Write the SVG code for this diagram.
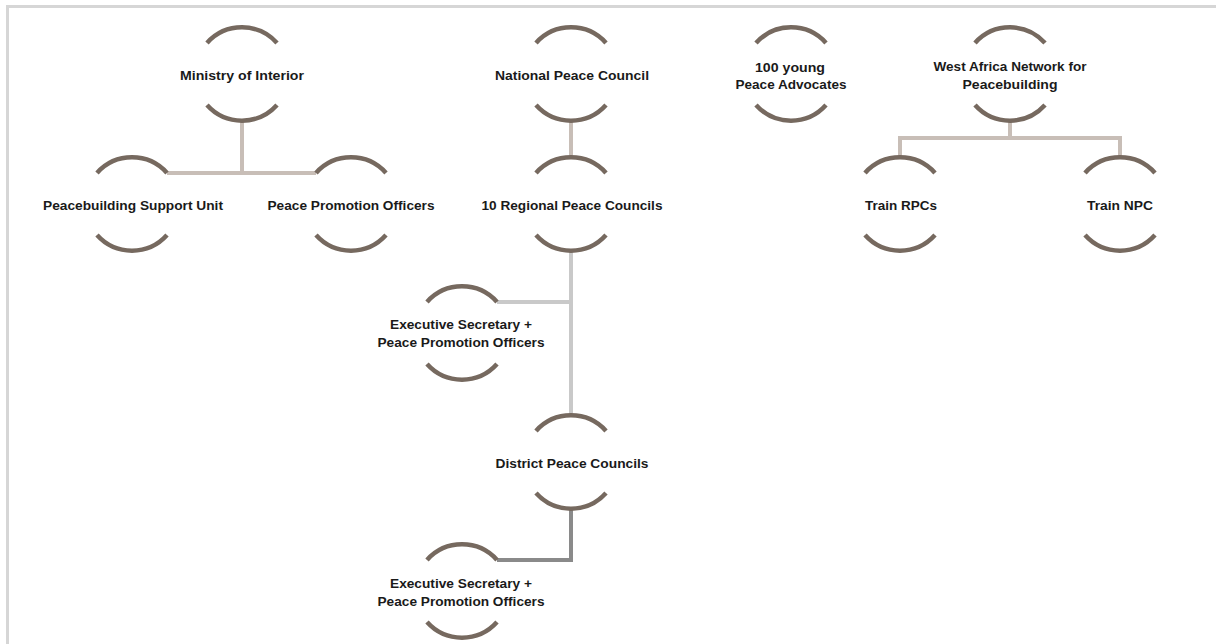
<svg xmlns="http://www.w3.org/2000/svg" width="1216" height="644" viewBox="0 0 1216 644">
<style>
.arc{fill:none;stroke:#76695f;stroke-width:4.5;stroke-linecap:butt}
.lbl{font-family:"Liberation Sans",Arial,sans-serif;font-weight:bold;font-size:13px;fill:#1a1a1a;text-anchor:middle}
.c1{fill:none;stroke:#c8beb7;stroke-width:4}
.c2{fill:none;stroke:#c9c9c9;stroke-width:4}
.c3{fill:none;stroke:#8a8a8a;stroke-width:4}
</style>
<rect x="0" y="0" width="1216" height="644" fill="#ffffff"/>
<path d="M7.5 650 V6.5 H1220" fill="none" stroke="#d6d6d6" stroke-width="3"/>
<g id="connectors">
<path class="c1" d="M242 121 V173 M167 173 H316"/>
<path class="c1" d="M571 121 V157"/>
<path class="c2" d="M571 251 V415 M497 302 H571"/>
<path class="c3" d="M571 509 V560 H497"/>
<path class="c1" d="M1010 121 V138 M900 157 V138 H1120 V157"/>
</g>
<g id="ministry">
<path class="arc" d="M207 43 A47 47 0 0 1 277 43 M207 105 A47 47 0 0 0 277 105"/>
<text class="lbl" x="242" y="79.5" textLength="124" lengthAdjust="spacingAndGlyphs">Ministry of Interior</text>
</g>
<g id="psu">
<path class="arc" d="M97 173 A47 47 0 0 1 167 173 M97 235 A47 47 0 0 0 167 235"/>
<text class="lbl" x="133" y="209.5" textLength="180" lengthAdjust="spacingAndGlyphs">Peacebuilding Support Unit</text>
</g>
<g id="ppo">
<path class="arc" d="M316 173 A47 47 0 0 1 386 173 M316 235 A47 47 0 0 0 386 235"/>
<text class="lbl" x="351" y="209.5" textLength="167" lengthAdjust="spacingAndGlyphs">Peace Promotion Officers</text>
</g>
<g id="npc">
<path class="arc" d="M536 43 A47 47 0 0 1 606 43 M536 105 A47 47 0 0 0 606 105"/>
<text class="lbl" x="572" y="79.5" textLength="154" lengthAdjust="spacingAndGlyphs">National Peace Council</text>
</g>
<g id="rpc">
<path class="arc" d="M536 173 A47 47 0 0 1 606 173 M536 235 A47 47 0 0 0 606 235"/>
<text class="lbl" x="572" y="209.5" textLength="181" lengthAdjust="spacingAndGlyphs">10 Regional Peace Councils</text>
</g>
<g id="young">
<path class="arc" d="M756 43 A47 47 0 0 1 826 43 M756 105 A47 47 0 0 0 826 105"/>
<text class="lbl" x="790" y="71.5" textLength="70" lengthAdjust="spacingAndGlyphs">100 young</text>
<text class="lbl" x="791" y="89" textLength="111" lengthAdjust="spacingAndGlyphs">Peace Advocates</text>
</g>
<g id="wanep">
<path class="arc" d="M975 43 A47 47 0 0 1 1045 43 M975 105 A47 47 0 0 0 1045 105"/>
<text class="lbl" x="1010" y="71" textLength="153" lengthAdjust="spacingAndGlyphs">West Africa Network for</text>
<text class="lbl" x="1010" y="89" textLength="95" lengthAdjust="spacingAndGlyphs">Peacebuilding</text>
</g>
<g id="train-rpcs">
<path class="arc" d="M865 173 A47 47 0 0 1 935 173 M865 235 A47 47 0 0 0 935 235"/>
<text class="lbl" x="901" y="209.5" textLength="72" lengthAdjust="spacingAndGlyphs">Train RPCs</text>
</g>
<g id="train-npc">
<path class="arc" d="M1085 173 A47 47 0 0 1 1155 173 M1085 235 A47 47 0 0 0 1155 235"/>
<text class="lbl" x="1120" y="209.5" textLength="66" lengthAdjust="spacingAndGlyphs">Train NPC</text>
</g>
<g id="exec1">
<path class="arc" d="M427 302 A47 47 0 0 1 497 302 M427 364 A47 47 0 0 0 497 364"/>
<text class="lbl" x="461" y="328.5" textLength="142" lengthAdjust="spacingAndGlyphs">Executive Secretary +</text>
<text class="lbl" x="461" y="346.5" textLength="167" lengthAdjust="spacingAndGlyphs">Peace Promotion Officers</text>
</g>
<g id="district">
<path class="arc" d="M536 431 A47 47 0 0 1 606 431 M536 493 A47 47 0 0 0 606 493"/>
<text class="lbl" x="572" y="467.5" textLength="153" lengthAdjust="spacingAndGlyphs">District Peace Councils</text>
</g>
<g id="exec2">
<path class="arc" d="M427 560 A47 47 0 0 1 497 560 M427 622 A47 47 0 0 0 497 622"/>
<text class="lbl" x="461" y="587.5" textLength="142" lengthAdjust="spacingAndGlyphs">Executive Secretary +</text>
<text class="lbl" x="461" y="605.5" textLength="167" lengthAdjust="spacingAndGlyphs">Peace Promotion Officers</text>
</g>
</svg>
